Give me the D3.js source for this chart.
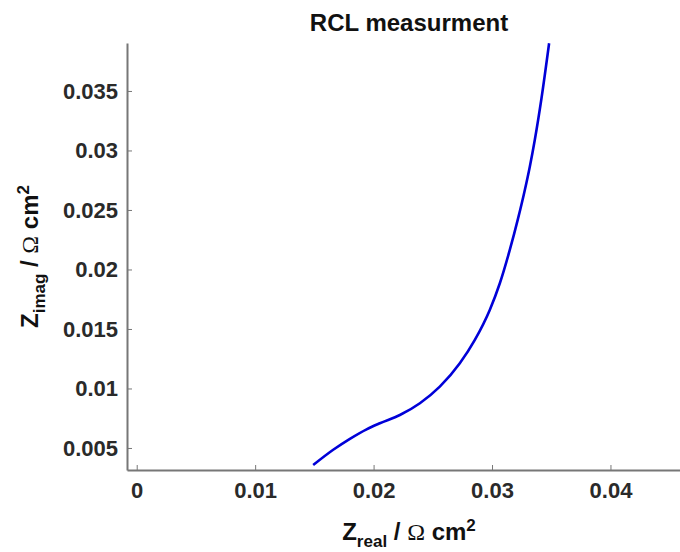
<!DOCTYPE html>
<html>
<head>
<meta charset="utf-8">
<script src="https://cdn.jsdelivr.net/npm/d3@7"></script>
<style>
    body { margin: 0; background: #fff; }
    text { font-family: "Liberation Sans", Arial, sans-serif; }
</style>
</head>
<body>
<div id="root"></div>
<script>
const w = 680;
const h = 552;
const plotLeft = 127;
const plotRight = 691;
const plotTop = 43;
const plotBottom = 470;

// curve
const zReal = [0.01490, 0.01659, 0.01800, 0.01941, 0.02053, 0.02222, 0.02391, 0.02559,
    0.02728, 0.02855, 0.02981, 0.03066, 0.03150, 0.03220, 0.03277, 0.03319, 0.03361, 0.03418, 0.03482];
const zImag = [0.00357, 0.00485, 0.00577, 0.00657, 0.00708, 0.00777, 0.00876, 0.01015,
    0.01212, 0.01408, 0.01660, 0.01884, 0.02164, 0.02429, 0.02668, 0.02864, 0.03088, 0.03441, 0.03901];
const xTicks = [0, 0.01, 0.02, 0.03, 0.04];
const yTicks = [0.005, 0.01, 0.015, 0.02, 0.025, 0.03, 0.035];

const points = zReal.map((x, i) => [x, zImag[i]]);

const xScale = d3.scaleLinear()
    .domain([-0.00082, 0.0468])
    .range([plotLeft, plotRight]);

const yScale = d3.scaleLinear()
    .domain([0.00315, 0.03903])
    .range([plotBottom, plotTop]);

const svg = d3.select("#root")
    .append("svg")
    .attr("width", w)
    .attr("height", h);

// title
svg.append("text")
    .attr("x", (plotLeft + plotRight) / 2)
    .attr("y", 31)
    .attr("text-anchor", "middle")
    .style("font-size", "24px")
    .style("font-weight", "bold")
    .attr("fill", "#111")
    .text("RCL measurment");

// x-axis
const xAxis = d3.axisBottom(xScale)
    .tickValues(xTicks)
    .tickFormat(d => d)
    .tickSizeInner(-5)
    .tickSizeOuter(0)
    .tickPadding(12);
const gx = svg.append("g")
    .attr("transform", "translate(0, " + plotBottom + ")")
    .call(xAxis);

// y-axis
const yAxis = d3.axisLeft(yScale)
    .tickValues(yTicks)
    .tickFormat(d => d)
    .tickSizeInner(-5)
    .tickSizeOuter(0)
    .tickPadding(9);
const gy = svg.append("g")
    .attr("transform", "translate(" + plotLeft + ", 0)")
    .call(yAxis);

[gx, gy].forEach(g => {
    g.select(".domain").attr("stroke", "#777").attr("stroke-width", 2);
    g.selectAll(".tick line").attr("stroke", "#777").attr("stroke-width", 1);
    g.selectAll(".tick text")
        .attr("fill", "#2a2a2a")
        .style("font-size", "22px")
        .style("font-weight", "bold")
        .style("font-family", "Liberation Sans, Arial, sans-serif");
});

// axis labels
function label(el, sub) {
    el.append("tspan").text("Z");
    el.append("tspan").attr("dy", 7).style("font-size", "17px").text(sub);
    el.append("tspan").attr("dy", -7).text(" / ");
    el.append("tspan")
        .style("font-family", "Liberation Serif, serif")
        .style("font-weight", "normal")
        .text("\u03A9");
    el.append("tspan").text(" cm");
    el.append("tspan").attr("dy", -9).style("font-size", "17px").text("2");
}

const xl = svg.append("text")
    .attr("x", (plotLeft + plotRight) / 2)
    .attr("y", 540)
    .attr("text-anchor", "middle")
    .style("font-size", "24px")
    .style("font-weight", "bold")
    .attr("fill", "#111");
label(xl, "real");

const yl = svg.append("text")
    .attr("transform", "translate(38, " + ((plotTop + plotBottom) / 2) + ") rotate(-90)")
    .attr("text-anchor", "middle")
    .style("font-size", "24px")
    .style("font-weight", "bold")
    .attr("fill", "#111");
label(yl, "imag");

// plot data
const line = d3.line()
    .x(d => xScale(d[0]))
    .y(d => yScale(d[1]))
    .curve(d3.curveMonotoneX);

svg.append("path")
    .datum(points)
    .attr("d", line)
    .attr("fill", "none")
    .attr("stroke", "#0000d8")
    .attr("stroke-width", 2.6);
</script>
</body>
</html>
